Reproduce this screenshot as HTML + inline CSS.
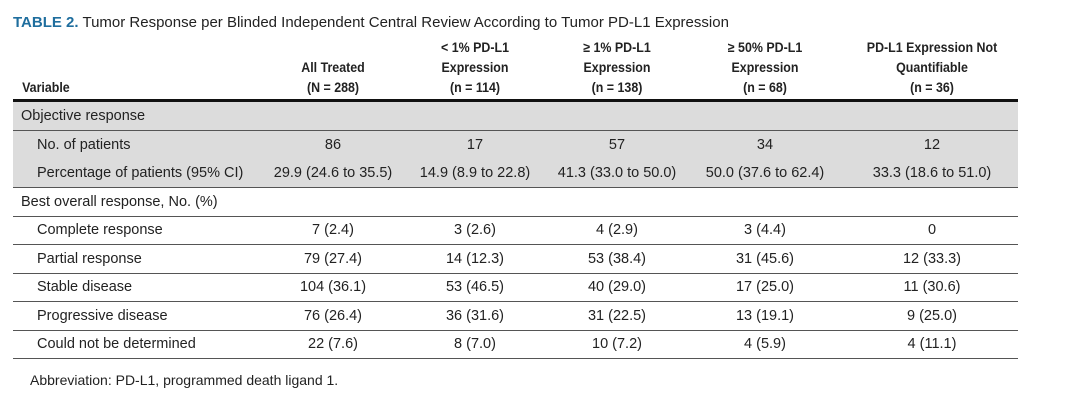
<!DOCTYPE html>
<html><head><meta charset="utf-8"><style>
body{margin:0;width:1080px;height:400px;background:#fff;font-family:"Liberation Sans",sans-serif;color:#222;position:relative;overflow:hidden}
.a{position:absolute;white-space:nowrap}
.t{left:13px;top:14px;font-size:15px}
.t b{color:#1f6e9e}
.h{font-weight:bold;font-size:13.5px;text-align:center;line-height:20px;transform:scaleX(.92)}
.row{position:absolute;left:13px;width:1005px;height:28px;border-bottom:1px solid #555}
.g{background:#dcdcdc}
.c{position:absolute;top:0;line-height:28px;font-size:14.5px;text-align:center;transform:translateX(-50%);white-space:nowrap}
.l{position:absolute;top:0;line-height:28px;font-size:14.5px;white-space:nowrap}
</style></head><body>
<div class="a t"><b>TABLE 2.</b> Tumor Response per Blinded Independent Central Review According to Tumor PD-L1 Expression</div>
<div class="a h" style="left:20px;top:78px;text-align:left">Variable</div>
<div class="a h" style="left:273px;top:58px;width:120px">All Treated<br>(N = 288)</div>
<div class="a h" style="left:415px;top:38px;width:120px">&lt; 1% PD-L1<br>Expression<br>(n = 114)</div>
<div class="a h" style="left:557px;top:38px;width:120px">≥ 1% PD-L1<br>Expression<br>(n = 138)</div>
<div class="a h" style="left:705px;top:38px;width:120px">≥ 50% PD-L1<br>Expression<br>(n = 68)</div>
<div class="a h" style="left:832px;top:38px;width:200px">PD-L1 Expression Not<br>Quantifiable<br>(n = 36)</div>
<div class="a" style="left:13px;top:99px;width:1005px;height:3px;background:#111"></div>
<div id="rows"></div>
<div class="a" style="left:30px;top:372px;font-size:14px">Abbreviation: PD-L1, programmed death ligand 1.</div>
<script>
const labels=["Objective response","No. of patients","Percentage of patients (95% CI)","Best overall response, No. (%)","Complete response","Partial response","Stable disease","Progressive disease","Could not be determined"];
const indent=[0,1,1,0,1,1,1,1,1];
const shaded=[1,1,1,0,0,0,0,0,0];
const colAll=["","86","29.9 (24.6 to 35.5)","","7 (2.4)","79 (27.4)","104 (36.1)","76 (26.4)","22 (7.6)"];
const colLt1=["","17","14.9 (8.9 to 22.8)","","3 (2.6)","14 (12.3)","53 (46.5)","36 (31.6)","8 (7.0)"];
const colGe1=["","57","41.3 (33.0 to 50.0)","","4 (2.9)","53 (38.4)","40 (29.0)","31 (22.5)","10 (7.2)"];
const colGe50=["","34","50.0 (37.6 to 62.4)","","3 (4.4)","31 (45.6)","17 (25.0)","13 (19.1)","4 (5.9)"];
const colNQ=["","12","33.3 (18.6 to 51.0)","","0","12 (33.3)","11 (30.6)","9 (25.0)","4 (11.1)"];
const cols=[colAll,colLt1,colGe1,colGe50,colNQ];
const centers=[320,462,604,752,919];
const wrap=document.getElementById('rows');
labels.forEach((lab,i)=>{
  const r=document.createElement('div');
  r.className='row'+(shaded[i]?' g':'');
  r.style.top=Math.round(102+i*28.5)+'px';
  
  
  const l=document.createElement('div');
  l.className='l';l.style.left=(indent[i]?24:8)+'px';l.textContent=lab;
  
  
  r.appendChild(l);
  cols.forEach((c,j)=>{
    if(!c[i])return;
    const d=document.createElement('div');
    d.className='c';d.style.left=centers[j]+'px';d.textContent=c[i];
    
    
    r.appendChild(d);
  });
  wrap.appendChild(r);
});
</script>
</body></html>
